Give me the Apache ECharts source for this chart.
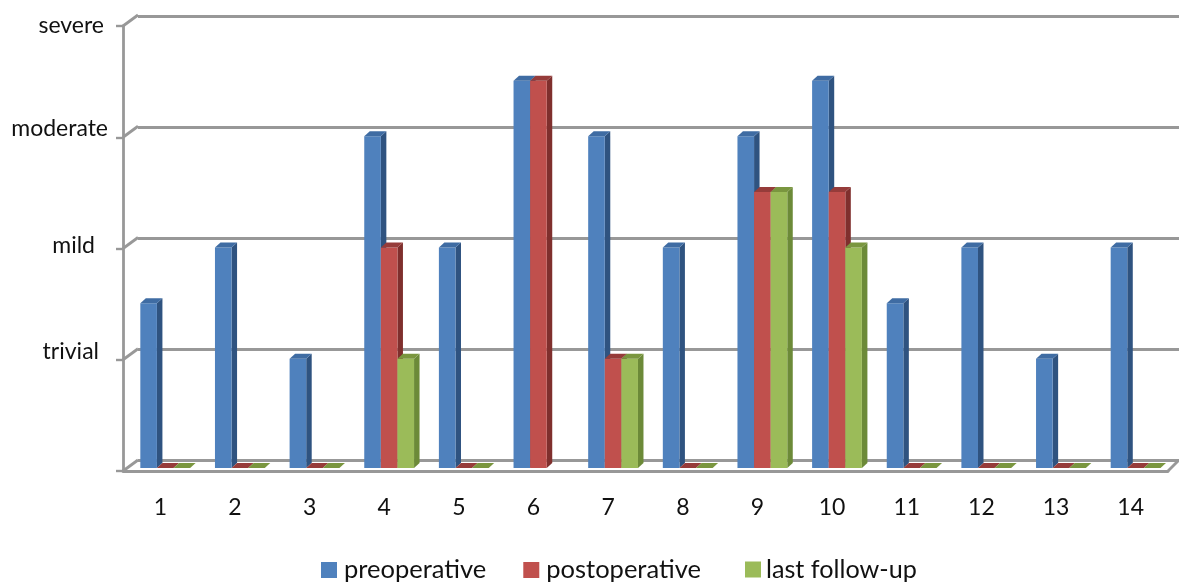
<!DOCTYPE html>
<html>
<head>
<meta charset="utf-8">
<style>html,body{margin:0;padding:0;background:#fff}#c{width:1179px;height:583px}</style>
<script src="https://cdn.jsdelivr.net/npm/echarts@6/dist/echarts.min.js"></script>
</head>
<body>
<div id="c"></div>
<script>
const categories = ['1','2','3','4','5','6','7','8','9','10','11','12','13','14'];
const preoperative  = [1.5,2,1,3,2,3.5,3,2,3,3.5,1.5,2,1,2];
const postoperative = [0,0,0,2,0,3.5,1,0,2.5,2.5,0,0,0,0];
const lastFollowUp  = [0,0,0,1,0,null,1,0,2.5,2,0,0,0,0];
const severityLabels = {0:'',1:'trivial',2:'mild',3:'moderate',4:'severe'};
const yTicks = [0,1,2,3,4];

const GRAY = '#989898', FONT = 'Lato, Carlito, "Open Sans", sans-serif', INK = '#111';
const BAR_W = 16.6, CLUSTER_OFFSET = -20, DEPTH_X = 5.5, DEPTH_Y = 5, FLOOR_LIFT = 3;

function barSeries(name, values, slot, front, side, top) {
  return {
    name, type: 'custom', xAxisIndex: 0, yAxisIndex: 0, z: 5,
    itemStyle: { color: front },
    encode: { x: 0, y: 1 },
    data: values.map((v, i) => [i, v]),
    renderItem(params, api) {
      const v = api.value(1);
      if (v === null || v === undefined || isNaN(v)) return;
      const c = api.coord([api.value(0), v]);
      const base = api.coord([api.value(0), 0])[1] - FLOOR_LIFT;
      const x0 = c[0] + CLUSTER_OFFSET + slot * BAR_W, x1 = x0 + BAR_W;
      const yT = v === 0 ? base : c[1] - 1, dx = DEPTH_X, dy = DEPTH_Y;
      const kids = [];
      if (v > 0) {
        kids.push({ type: 'polygon', shape: { points: [[x1,yT],[x1+dx,yT-dy],[x1+dx,base-dy],[x1,base]] }, style: { fill: side } });
        kids.push({ type: 'rect', shape: { x: x0, y: yT, width: BAR_W, height: base - yT }, style: { fill: front } });
      }
      kids.push({ type: 'polygon', shape: { points: [[x0,yT],[x0+dx,yT-dy],[x1+dx,yT-dy],[x1,yT]] }, style: { fill: top } });
      return { type: 'group', children: kids };
    }
  };
}

const wallDiagonals = {
  type: 'custom', xAxisIndex: 0, yAxisIndex: 0, silent: true, z: 2, legendHoverLink: false,
  encode: { y: 1 },
  data: yTicks.map(v => [0, v]),
  renderItem(params, api) {
    const c = api.coord([0, api.value(1)]);
    const half = api.size([1, 0])[0] / 2;
    const lineStyle = { stroke: GRAY, lineWidth: 2.8 };
    const kids = [{ type: 'line', shape: { x1: c[0]-half, y1: c[1], x2: c[0]-half+15, y2: c[1]-11 }, style: lineStyle }];
    if (api.value(1) === 0) {
      const xr = c[0]-half + params.coordSys.width;
      kids.push({ type: 'line', shape: { x1: xr, y1: c[1], x2: xr+11, y2: c[1]-11 }, style: lineStyle });
    }
    return { type: 'group', children: kids };
  }
};

const rich = {
  severe:   { fontSize: 23, fontFamily: FONT, color: INK, padding: [0,4,0,0] },
  moderate: { fontSize: 23, fontFamily: FONT, color: INK, padding: [0,0,18,0] },
  mild:     { fontSize: 23, fontFamily: FONT, color: INK, padding: [0,13,6,0] },
  trivial:  { fontSize: 23, fontFamily: FONT, color: INK, padding: [0,9,16,0] }
};

const chart = echarts.init(document.getElementById('c'));
chart.setOption({
  animation: false,
  backgroundColor: '#fff',
  grid: [
    { left: 123, width: 1045, top: 26, height: 445 },
    { left: 138, width: 1041, top: 16, height: 444 }
  ],
  xAxis: [
    { type: 'category', gridIndex: 0, data: categories,
      axisLine: { lineStyle: { color: GRAY, width: 2.8 } },
      axisTick: { length: 9, lineStyle: { color: GRAY, width: 2.4 } },
      axisLabel: { color: INK, fontSize: 23, fontFamily: FONT, margin: 25 } },
    { type: 'category', gridIndex: 1, data: categories, show: false }
  ],
  yAxis: [
    { type: 'value', gridIndex: 0, min: 0, max: 4, interval: 1, splitLine: { show: false },
      axisLine: { show: true, lineStyle: { color: GRAY, width: 2.8 } },
      axisTick: { show: true, length: 7, lineStyle: { color: GRAY, width: 2.4 } },
      axisLabel: { margin: 15, rich, formatter: v => severityLabels[v] ? `{${severityLabels[v]}|${severityLabels[v]}}` : '' } },
    { type: 'value', gridIndex: 1, min: 0, max: 4, interval: 1,
      axisLine: { show: false }, axisTick: { show: false }, axisLabel: { show: false },
      splitLine: { show: true, lineStyle: { color: GRAY, width: 2.8 } } }
  ],
  legend: [
    { left: 316, top: 552, icon: 'rect', itemWidth: 16, itemHeight: 16, itemGap: 37,
      data: ['preoperative','postoperative'],
      textStyle: { fontSize: 25.5, fontFamily: FONT, color: INK, padding: [0,0,0,2] } },
    { left: 740, top: 552, icon: 'rect', itemWidth: 16, itemHeight: 16,
      data: ['last follow-up'],
      textStyle: { fontSize: 25.2, fontFamily: FONT, color: INK, padding: [0,0,0,0] } }
  ],
  series: [
    wallDiagonals,
    barSeries('preoperative', preoperative, 0, '#4F81BD', '#2F5380', '#3F6CA3'),
    barSeries('postoperative', postoperative, 1, '#C0504D', '#7F2F2D', '#963C3A'),
    barSeries('last follow-up', lastFollowUp, 2, '#9BBB59', '#6C8A38', '#7A963F')
  ]
});
</script>
</body>
</html>
